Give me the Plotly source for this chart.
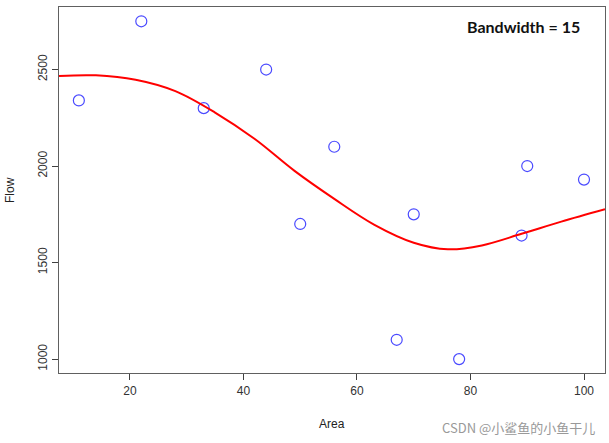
import plotly.graph_objects as go

area = [11, 22, 33, 44, 50, 56, 67, 70, 78, 89, 90, 100]
flow = [2340, 2750, 2300, 2500, 1700, 2100, 1100, 1750, 1000, 1640, 2000, 1930]

# kernel-smoothed curve (bandwidth = 15)
curve_x = [7.5, 14, 21, 28, 35, 42, 49, 56, 63, 70, 76, 82, 89, 96, 103.7]
curve_y = [2467, 2470, 2447, 2388, 2277, 2140, 1975, 1830, 1697, 1603, 1569, 1589, 1649, 1712, 1776]

x_ticks = [20, 40, 60, 80, 100]
y_ticks = [1000, 1500, 2000, 2500]

fig = go.Figure()
fig.add_trace(go.Scatter(
    x=area, y=flow, mode="markers",
    marker=dict(symbol="circle-open", size=11, color="#4a4aff", line=dict(width=1.2)),
    showlegend=False, cliponaxis=False,
))
fig.add_trace(go.Scatter(
    x=curve_x, y=curve_y, mode="lines", line_shape="spline",
    line=dict(color="#ff0000", width=2, smoothing=1), showlegend=False,
))

axis_common = dict(
    showgrid=False, zeroline=False, showline=True, mirror=True,
    linecolor="#606060", linewidth=1.3, ticks="outside", ticklen=6,
    tickcolor="#404040", tickwidth=1,
    tickfont=dict(family="Liberation Sans, Arial", size=12, color="#333333"),
)

fig.update_layout(
    width=609, height=443,
    margin=dict(l=58.7, r=4, t=6.7, b=69.7),
    paper_bgcolor="white", plot_bgcolor="white",
    xaxis=dict(range=[7.5, 103.7], tickvals=x_ticks, **axis_common),
    yaxis=dict(range=[928, 2824], tickvals=y_ticks, tickangle=-90, **axis_common),
    annotations=[
        dict(text="<b>Bandwidth = 15</b>", xref="paper", yref="paper", x=0.958, y=0.9455,
             xanchor="right", yanchor="middle", showarrow=False,
             font=dict(family="Lato, Open Sans", size=16, color="#111111")),
        dict(text="Area", xref="paper", yref="paper", x=0.5, y=0, yshift=-51,
             xanchor="center", yanchor="middle", showarrow=False,
             font=dict(family="Liberation Sans, Arial", size=12, color="#222222")),
        dict(text="Flow", xref="paper", yref="paper", x=0, y=0.5, xshift=-49, textangle=-90,
             xanchor="center", yanchor="middle", showarrow=False,
             font=dict(family="Liberation Sans, Arial", size=12, color="#222222")),
        dict(text="CSDN @小鲨鱼的小鱼干儿", xref="paper", yref="paper", x=0.841, y=0, yshift=-54.4,
             xanchor="center", yanchor="middle", showarrow=False,
             font=dict(family="Noto Sans CJK SC", size=13, color="#999999")),
    ],
)

fig.write_html("out.html")
